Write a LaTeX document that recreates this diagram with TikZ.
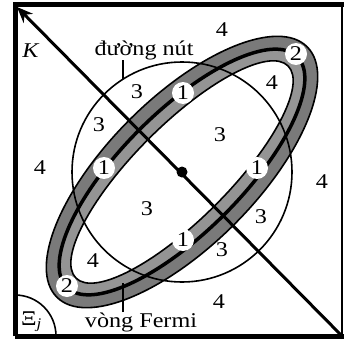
\documentclass[tikz,border=0pt]{standalone}
\usepackage{fontspec}
\setmainfont[FakeStretch=1.15]{Liberation Serif}
\usetikzlibrary{arrows.meta}

\tikzset{
  txt/.style={inner sep=0pt, font=\fontsize{21pt}{25pt}\selectfont},
  ringlbl/.style={txt, circle, fill=white, minimum size=22pt},
  thin line/.style={line width=1.6pt},
  frame line/.style={line width=5pt}
}

\begin{document}
\begin{tikzpicture}[x=1pt, y=-1pt]
  \useasboundingbox (0,0) rectangle (344,345);
  \coordinate (ctr) at (182,172);
  % band of the Fermi ring
  \begin{scope}[rotate around={45:(ctr)}]
    \fill[black!52] (ctr) ellipse [x radius=177, y radius=74];
    \fill[black!42] (ctr) ellipse [x radius=163, y radius=60];
    \fill[white] (ctr) ellipse [x radius=150, y radius=47];
    \draw[thin line] (ctr) ellipse [x radius=177, y radius=74];
    \draw[thin line] (ctr) ellipse [x radius=150, y radius=47];
    \draw[line width=3.5pt] (ctr) ellipse [x radius=163, y radius=60];
  \end{scope}
  % nodal circle
  \draw[thin line] (ctr) circle (110);
  % corner arc
  \coordinate (xicorner) at (15,336);
  \begin{scope}
    \clip (15,0) rectangle (344,336);
    \draw[thin line] (xicorner) circle (41);
  \end{scope}
  % frame
  \draw[frame line] (15,336) -- (15,4.5) -- (344,4.5);
  \draw[frame line] (15,336) -- (344,336);
  \draw[line width=1.5pt] (342,4.5) -- (342,336);
  % diagonal K
  \coordinate (kend) at (342,336);
  \coordinate (ktip) at (17,7);
  \draw[line width=3pt, -{Stealth[length=16pt, width=13pt]}] (kend) -- (ktip);
  \fill (ctr) circle (5.5);
  % labels
  \node[txt] (klbl) at (31,51) {\textit{K}};
  \node[txt, anchor=base] (nut) at (144,55.5) {đường nút};
  \node[txt, anchor=base] (fermi) at (141,327) {vòng Fermi};
  \node[txt, anchor=base west] (xi) at (21,325) {Ξ\textsubscript{\textit{j}}};
  \coordinate (nutfoot) at (123,79);
  \coordinate (fermifoot) at (123,283);
  \draw[thin line] (nut.south -| nutfoot) -- (nutfoot);
  \draw[thin line] (fermi.north -| fermifoot) -- (fermifoot);
  % region numbers
  \node[txt] (ra) at (222,30) {4};
  \node[txt] (rb) at (137,92) {3};
  \node[txt] (rc) at (99,125) {3};
  \node[txt] (rd) at (272,83) {4};
  \node[txt] (re) at (220,135) {3};
  \node[txt] (rf) at (40,168) {4};
  \node[txt] (rg) at (147,209) {3};
  \node[txt] (rh) at (322,182) {4};
  \node[txt] (ri) at (261,217) {3};
  \node[txt] (rj) at (222,250) {3};
  \node[txt] (rk) at (93,261) {4};
  \node[txt] (rl) at (219,302) {4};
  % points on the ring
  \node[ringlbl] (pa) at (183,93) {1};
  \node[ringlbl] (pb) at (104,168) {1};
  \node[ringlbl] (pc) at (257,168) {1};
  \node[ringlbl] (pd) at (183,240) {1};
  \node[ringlbl] (pe) at (296,54) {2};
  \node[ringlbl] (pf) at (67,286) {2};
\end{tikzpicture}
\end{document}
